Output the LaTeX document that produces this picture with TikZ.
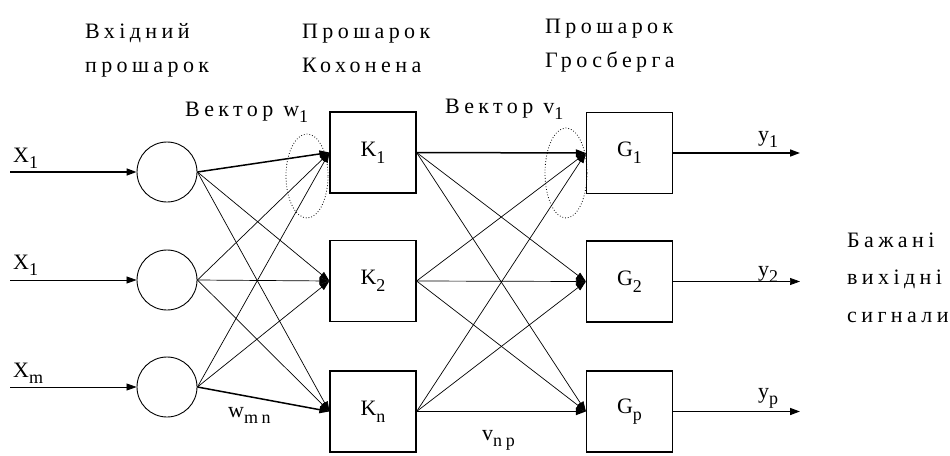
\documentclass[tikz,border=0pt]{standalone}
\usepackage{fontspec}
\setmainfont{Liberation Serif}[LetterSpace=20]
\usetikzlibrary{arrows.meta,shapes.geometric}
\newcommand{\sbx}[1]{\raisebox{-0.3em}{\fontsize{18}{18}\selectfont #1}}
\begin{document}
\begin{tikzpicture}[x=1pt,y=-1pt,
  neuron/.style={circle, draw, minimum size=60pt, inner sep=0pt, line width=0.9pt},
  layerbox/.style={draw, minimum width=86pt, minimum height=81pt, inner sep=0pt, line width=1.2pt,
    font=\fontsize{22}{22}\selectfont},
  conn/.style={-{Triangle[length=10pt,width=7pt]}, line width=0.7pt},
  thickconn/.style={conn, line width=1.5pt},
  txt/.style={font=\fontsize{22}{34}\selectfont, inner sep=0pt, align=left, anchor=base west},
  lbl/.style={font=\fontsize{22}{22}\selectfont, inner sep=0pt, anchor=base west},
  halo/.style={ellipse, draw, dotted, line width=0.8pt, inner sep=0pt}
]
\useasboundingbox (0,0) rectangle (950,455);

% headers (base anchor = baseline of last line)
\node[txt] (h1) at (85,72) {Вхідний\\прошарок};
\node[txt] (h2) at (302,72) {Прошарок\\Кохонена};
\node[txt] (h3) at (545,67) {Прошарок\\Гросберга};
\node[txt, font=\fontsize{22}{37.5}\selectfont] (h4) at (847,322) {Бажані\\вихідні\\сигнали};

% input neurons
\node[neuron] (c1) at (167,172) {};
\node[neuron] (c2) at (167,280) {};
\node[neuron] (c3) at (167,387) {};

% Kohonen layer
\node[layerbox] (k1) at (373,152.5) {K\sbx{1}};
\node[layerbox] (k2) at (373,281) {K\sbx{2}};
\node[layerbox] (kn) at (373,411.5) {K\sbx{n}};

% Grossberg layer
\node[layerbox] (g1) at (629.5,153) {G\sbx{1}};
\node[layerbox] (g2) at (629.5,281.5) {G\sbx{2}};
\node[layerbox] (gp) at (629.5,411.5) {G\sbx{p}};

% free ends
\coordinate (x1) at (10,172);
\coordinate (x2) at (10,280);
\coordinate (x3) at (10,387);
\coordinate (o1) at (800,153);
\coordinate (o2) at (800,281.5);
\coordinate (o3) at (800,411.5);

% inputs
\draw[thickconn] (x1) -- (c1.west);
\draw[conn] (x2) -- (c2.west);
\draw[conn] (x3) -- (c3.west);

% input -> Kohonen
\draw[thickconn] (c1.east) -- (k1.west);
\draw[conn] (c1.east) -- (k2.west);
\draw[conn] (c1.east) -- (kn.west);
\draw[conn] (c2.east) -- (k1.west);
\draw[conn] (c2.east) -- (k2.west);
\draw[conn] (c2.east) -- (kn.west);
\draw[conn] (c3.east) -- (k1.west);
\draw[conn] (c3.east) -- (k2.west);
\draw[thickconn] (c3.east) -- (kn.west);

% Kohonen -> Grossberg
\draw[thickconn] (k1.east) -- (g1.west);
\draw[conn] (k1.east) -- (g2.west);
\draw[conn] (k1.east) -- (gp.west);
\draw[conn] (k2.east) -- (g1.west);
\draw[conn] (k2.east) -- (g2.west);
\draw[conn] (k2.east) -- (gp.west);
\draw[conn] (kn.east) -- (g1.west);
\draw[conn] (kn.east) -- (g2.west);
\draw[thickconn] (kn.east) -- (gp.west);

% outputs
\draw[thickconn] (g1.east) -- (o1);
\draw[conn] (g2.east) -- (o2);
\draw[thickconn] (gp.east) -- (o3);

% dotted halos
\node[halo, minimum width=42pt, minimum height=84pt] (e1) at (307,176) {};
\node[halo, minimum width=42pt, minimum height=90pt] (e2) at (566,173) {};

% labels
\node[lbl] (lw) at (185,116) {Вектор w\sbx{1}};
\node[lbl] (lv) at (445,113) {Вектор v\sbx{1}};
\node[lbl] (lx1) at (13,162) {X\sbx{1}};
\node[lbl] (lx2) at (13,269) {X\sbx{1}};
\node[lbl] (lx3) at (13,377) {X\sbx{m}};
\node[lbl] (ly1) at (758,141) {y\sbx{1}};
\node[lbl] (ly2) at (758,276) {y\sbx{2}};
\node[lbl] (ly3) at (758,398) {y\sbx{p}};
\node[lbl] (lwmn) at (228,417) {w\sbx{mn}};
\node[lbl] (lvnp) at (482,440) {v\sbx{np}};
\end{tikzpicture}
\end{document}
